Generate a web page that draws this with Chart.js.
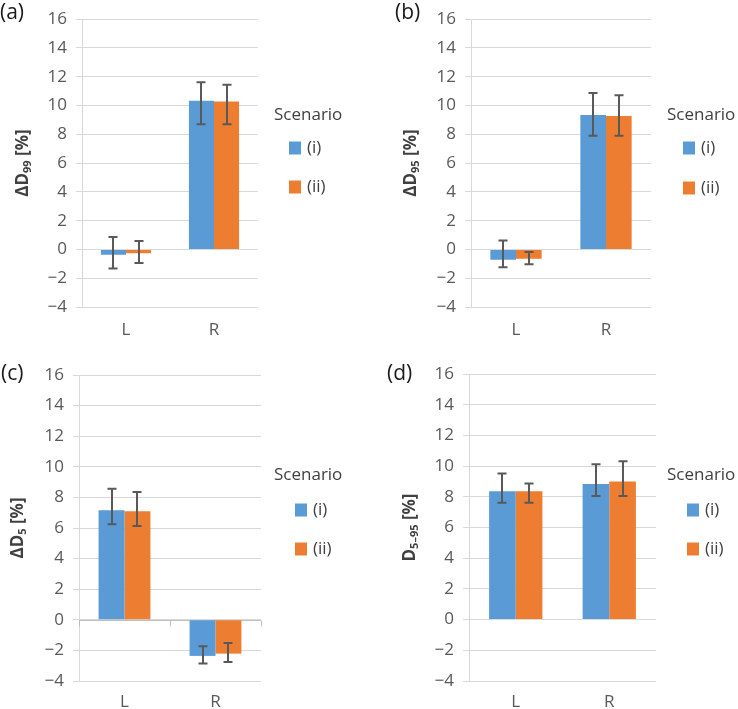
<!DOCTYPE html>
<html><head><meta charset="utf-8">
<script src="https://cdn.jsdelivr.net/npm/chart.js@4.4.0/dist/chart.umd.min.js"></script>
<style>
body{margin:0;background:#fff;width:738px;height:709px;position:relative;overflow:hidden}
canvas{position:absolute}
</style></head><body>
<canvas id="ca" width="369" height="340" style="left:0;top:0"></canvas>
<canvas id="cb" width="369" height="340" style="left:369px;top:0"></canvas>
<canvas id="cc" width="369" height="369" style="left:0;top:340px"></canvas>
<canvas id="cd" width="369" height="369" style="left:369px;top:340px"></canvas>
<script>
// ---- data ----
const categories = ['L', 'R'];
const seriesLabels = ['(i)', '(ii)'];
const legendTitle = 'Scenario';
const yMin = -4, yMax = 16, yStep = 2;

// (a) ΔD99
const a_i      = [-0.37, 10.33];
const a_ii     = [-0.27, 10.28];
const a_i_low  = [-1.33, 8.70];
const a_i_high = [0.87, 11.61];
const a_ii_low = [-0.94, 8.70];
const a_ii_high= [0.59, 11.45];

// (b) ΔD95
const b_i      = [-0.71, 9.35];
const b_ii     = [-0.64, 9.28];
const b_i_low  = [-1.24, 7.90];
const b_i_high = [0.62, 10.88];
const b_ii_low = [-1.03, 7.90];
const b_ii_high= [-0.18, 10.72];

// (c) ΔD5
const c_i      = [7.16, -2.36];
const c_ii     = [7.09, -2.21];
const c_i_low  = [6.24, -2.86];
const c_i_high = [8.57, -1.73];
const c_ii_low = [6.13, -2.76];
const c_ii_high= [8.35, -1.52];

// (d) D5-95
const d_i      = [8.36, 8.83];
const d_ii     = [8.36, 8.99];
const d_i_low  = [7.62, 8.05];
const d_i_high = [9.51, 10.12];
const d_ii_low = [7.62, 8.05];
const d_ii_high= [8.86, 10.31];

// ---- style ----
const FONT = "'Open Sans', sans-serif";
const BLUE = '#5B9BD5', ORANGE = '#ED7D31';
const TICK_COLOR = '#595959';
const GRID = '#d9d9d9';

const errorPlugin = {
  id: 'errbars',
  afterDatasetsDraw(chart) {
    const ctx = chart.ctx, ys = chart.scales.y;
    ctx.save();
    ctx.strokeStyle = '#595959';
    ctx.lineWidth = 2;
    chart.data.datasets.forEach((ds, d) => {
      const meta = chart.getDatasetMeta(d);
      meta.data.forEach((bar, j) => {
        const x = Math.round(bar.x);
        const y1 = ys.getPixelForValue(ds.errLow[j]);
        const y2 = ys.getPixelForValue(ds.errHigh[j]);
        ctx.beginPath();
        ctx.moveTo(x, y1); ctx.lineTo(x, y2);
        ctx.moveTo(x - 4.5, y1); ctx.lineTo(x + 4.5, y1);
        ctx.moveTo(x - 4.5, y2); ctx.lineTo(x + 4.5, y2);
        ctx.stroke();
      });
    });
    ctx.restore();
  }
};

const decorPlugin = {
  id: 'decor',
  beforeDatasetsDraw(chart, args, o) {
    if (!o.zeroAxis) return;
    const ctx = chart.ctx, ys = chart.scales.y, ca = chart.chartArea;
    const y0 = Math.round(ys.getPixelForValue(0)) + 0.5;
    ctx.save();
    ctx.strokeStyle = '#bfbfbf';
    ctx.lineWidth = 1;
    ctx.beginPath();
    ctx.moveTo(ca.left, y0); ctx.lineTo(ca.right, y0);
    const n = chart.data.labels.length;
    for (let k = 0; k <= n; k++) {
      const x = Math.round(ca.left + (ca.right - ca.left) * k / n) + 0.5;
      ctx.moveTo(x, y0); ctx.lineTo(x, y0 + 6);
    }
    ctx.stroke();
    ctx.restore();
  },
  afterDraw(chart, args, o) {
    const ctx = chart.ctx, ca = chart.chartArea;
    ctx.save();
    // panel label
    ctx.fillStyle = '#1a1a1a';
    ctx.font = '21px ' + FONT;
    ctx.textBaseline = 'middle';
    ctx.textAlign = 'left';
    ctx.fillText(o.label, o.labelX, o.labelY);
    // y title with subscript
    const cy = (ca.top + ca.bottom) / 2;
    ctx.translate(o.titleX, cy);
    ctx.rotate(-Math.PI / 2);
    const mainF = 'bold 17px ' + FONT, subF = 'bold 11px ' + FONT;
    let total = 0;
    o.title.forEach(p => { ctx.font = p.sub ? subF : mainF; total += ctx.measureText(p.t).width; });
    let x = -total / 2;
    ctx.fillStyle = '#404040';
    ctx.textBaseline = 'alphabetic';
    o.title.forEach(p => {
      ctx.font = p.sub ? subF : mainF;
      ctx.fillText(p.t, x, p.sub ? 9 : 6);
      x += ctx.measureText(p.t).width;
    });
    ctx.setTransform(1, 0, 0, 1, 0, 0);
    // legend
    ctx.font = '17px ' + FONT;
    ctx.fillStyle = '#404040';
    ctx.textBaseline = 'middle';
    ctx.fillText(legendTitle, ca.right + o.lg.titleDx, o.lg.titleY);
    chart.data.datasets.forEach((ds, i) => {
      const y = o.lg.itemY[i];
      ctx.fillStyle = ds.backgroundColor;
      ctx.fillRect(ca.right + o.lg.boxDx, y - 6.5, 12, 13);
      ctx.fillStyle = '#404040';
      ctx.fillText(ds.label, ca.right + o.lg.boxDx + 18, y);
    });
    ctx.restore();
  }
};

function makeChart(id, p) {
  const cv = document.getElementById(id);
  const W = cv.width, H = cv.height;
  return new Chart(cv, {
    type: 'bar',
    data: {
      labels: categories,
      datasets: [
        { label: seriesLabels[0], data: p.s1, errLow: p.s1Low, errHigh: p.s1High, backgroundColor: BLUE },
        { label: seriesLabels[1], data: p.s2, errLow: p.s2Low, errHigh: p.s2High, backgroundColor: ORANGE }
      ]
    },
    options: {
      responsive: false,
      animation: false,
      devicePixelRatio: 1,
      layout: { padding: { left: 0, top: p.area.t, right: W - p.area.r, bottom: 0 } },
      datasets: { bar: { categoryPercentage: 0.57, barPercentage: 1.0, borderWidth: 0 } },
      plugins: {
        legend: { display: false },
        tooltip: { enabled: false },
        decor: p.decor
      },
      scales: {
        x: {
          grid: { display: false, drawTicks: false },
          border: { display: false },
          ticks: { padding: p.xPad, color: TICK_COLOR, font: { family: FONT, size: 17 } },
          afterFit: s => { s.height = H - p.area.b; }
        },
        y: {
          min: yMin, max: yMax,
          ticks: {
            stepSize: yStep, padding: 9, color: TICK_COLOR,
            font: { family: FONT, size: 17 },
            callback: v => String(v).replace('-', '\u2212')
          },
          grid: { color: GRID, lineWidth: 1, tickLength: 6 },
          border: { color: GRID },
          afterFit: s => { s.width = p.area.l; }
        }
      }
    },
    plugins: [decorPlugin, errorPlugin]
  });
}

makeChart('ca', {
  s1: a_i, s2: a_ii, s1Low: a_i_low, s1High: a_i_high, s2Low: a_ii_low, s2High: a_ii_high,
  area: { l: 82, r: 258, t: 16, b: 307 }, xPad: 13,
  decor: {
    label: '(a)', labelX: 0, labelY: 13, titleX: 22,
    title: [{ t: 'ΔD' }, { t: '99', sub: true }, { t: ' [%]' }],
    lg: { titleDx: 16, titleY: 115, boxDx: 31, itemY: [148, 187] }
  }
});
makeChart('cb', {
  s1: b_i, s2: b_ii, s1Low: b_i_low, s1High: b_i_high, s2Low: b_ii_low, s2High: b_ii_high,
  area: { l: 102, r: 282, t: 16, b: 307 }, xPad: 13,
  decor: {
    label: '(b)', labelX: 26, labelY: 13, titleX: 41,
    title: [{ t: 'ΔD' }, { t: '95', sub: true }, { t: ' [%]' }],
    lg: { titleDx: 16, titleY: 115, boxDx: 32, itemY: [148, 188] }
  }
});
makeChart('cc', {
  s1: c_i, s2: c_ii, s1Low: c_i_low, s1High: c_i_high, s2Low: c_ii_low, s2High: c_ii_high,
  area: { l: 79, r: 261, t: 35, b: 341 }, xPad: 11,
  decor: {
    label: '(c)', labelX: 1, labelY: 34, titleX: 17, zeroAxis: true,
    title: [{ t: 'ΔD' }, { t: '5', sub: true }, { t: ' [%]' }],
    lg: { titleDx: 13, titleY: 135, boxDx: 34, itemY: [170, 209] }
  }
});
makeChart('cd', {
  s1: d_i, s2: d_ii, s1Low: d_i_low, s1High: d_i_high, s2Low: d_ii_low, s2High: d_ii_high,
  area: { l: 100, r: 287, t: 34, b: 341 }, xPad: 11,
  decor: {
    label: '(d)', labelX: 18, labelY: 34, titleX: 40,
    title: [{ t: 'D' }, { t: '5\u201395', sub: true }, { t: ' [%]' }],
    lg: { titleDx: 11, titleY: 135, boxDx: 31, itemY: [170, 209] }
  }
});
</script>
</body></html>
